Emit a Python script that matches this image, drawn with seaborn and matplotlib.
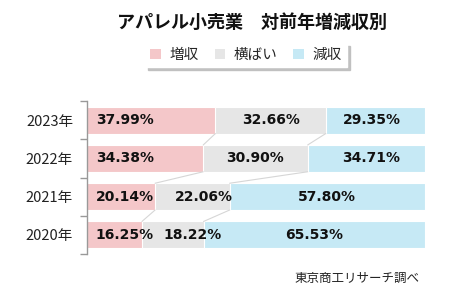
import matplotlib
matplotlib.use('Agg')
import matplotlib.pyplot as plt
import matplotlib.patches as mpatches
import seaborn as sns
import pandas as pd

# ---- data ----
years = ['2023年', '2022年', '2021年', '2020年']
increase = [37.99, 34.38, 20.14, 16.25]
flat = [32.66, 30.90, 22.06, 18.22]
decrease = [29.35, 34.71, 57.80, 65.53]
series_names = ['増収', '横ばい', '減収']
title = 'アパレル小売業　対前年増減収別'
source = '東京商工リサーチ調べ'

# ---- style ----
colors = ['#F4C7C9', '#E6E6E6', '#C6E9F5']
flat_nudge = [0, 0, 3.3, 5.8]
dec_nudge = [-1.0, 1.5, 0, 0]

sns.set_theme(style='white')
plt.rcParams['font.family'] = ['Noto Sans CJK JP', 'DejaVu Sans']

df = pd.DataFrame({'year': years, 'inc': increase, 'flat': flat, 'dec': decrease})
df['c1'] = df['inc']
df['c2'] = df['inc'] + df['flat']
df['c3'] = df['c2'] + df['dec']

fig = plt.figure(figsize=(4.61, 3.06), dpi=100)
ax = fig.add_axes([87 / 461, 1 - 254 / 306, (425 - 87) / 461, (254 - 101) / 306])

bw = 0.7
for col, c in zip(['c3', 'c2', 'c1'], [colors[2], colors[1], colors[0]]):
    sns.barplot(data=df, x=col, y='year', orient='h', color=c, saturation=1,
                width=bw, edgecolor='white', linewidth=0.8, ax=ax)

# series lines
for i in range(len(years) - 1):
    for col in ['c1', 'c2']:
        ax.plot([df[col][i], df[col][i + 1]], [i + bw / 2, i + 1 - bw / 2],
                color='#D6D6D6', lw=0.8, zorder=1)

# labels
lab_kw = dict(fontfamily='DejaVu Sans', fontweight='bold', fontsize=10,
              color='#111111', va='center')
for i in range(len(years)):
    ax.text(2.6, i, f'{increase[i]:.2f}%', ha='left', **lab_kw)
    ax.text(df['c1'][i] + flat[i] / 2 + flat_nudge[i], i, f'{flat[i]:.2f}%', ha='center', **lab_kw)
    ax.text(df['c2'][i] + decrease[i] / 2 + dec_nudge[i], i, f'{decrease[i]:.2f}%', ha='center', **lab_kw)

ax.set_xlim(0, 100)
ax.set_ylim(len(years) - 0.5, -0.5)
ax.set_xlabel('')
ax.set_ylabel('')
ax.set_xticks([])
for s in ['top', 'right', 'bottom']:
    ax.spines[s].set_visible(False)
ax.spines['left'].set_color('#999999')
ax.spines['left'].set_linewidth(1.0)
ax.tick_params(axis='y', which='major', length=0, pad=10, labelsize=10.5, labelcolor='#222222')
ax.set_yticks([i - 0.5 for i in range(len(years) + 1)], minor=True)
ax.tick_params(axis='y', which='minor', left=True, length=5, width=1, color='#999999')

fig.text(252 / 461, 1 - 22 / 306, title, ha='center', va='center',
         fontsize=13, fontweight='bold', color='#111111')

handles = [mpatches.Patch(facecolor=c, edgecolor='none') for c in colors]
leg = fig.legend(handles, series_names, loc='center', bbox_to_anchor=(246 / 461, 1 - 55 / 306),
                 ncol=3, frameon=True, shadow={'color': '#bdbdbd', 'alpha': 0.9},
                 fancybox=False, edgecolor='white',
                 handlelength=0.7, handleheight=0.7, handletextpad=0.6, columnspacing=1.1,
                 fontsize=10.5, borderpad=0.35)

fig.text(419 / 461, 1 - 278 / 306, source, ha='right', va='center', fontsize=9, color='#222222')

fig.savefig('out.png', dpi=100, facecolor='white')
